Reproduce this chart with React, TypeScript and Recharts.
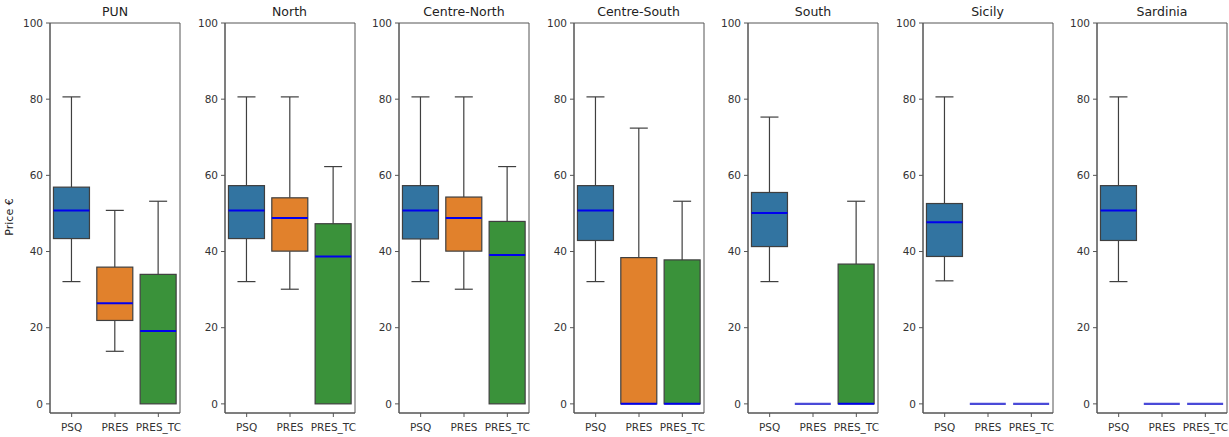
import React from 'react';
import { ComposedChart, Bar, XAxis, YAxis, ReferenceArea } from 'recharts';

const categories = ['PSQ', 'PRES', 'PRES_TC'];
const regions = ['PUN', 'North', 'Centre-North', 'Centre-South', 'South', 'Sicily', 'Sardinia'];
const yTicks = [0, 20, 40, 60, 80, 100];
const boxColors = ['#3274a1', '#e1812c', '#3a923a'];

// per region, per category (PSQ, PRES, PRES_TC)
const whiskerLow = [
  [32.1, 13.8, 0], [32.1, 30.1, 0], [32.1, 30.1, 0], [32.1, 0, 0], [32.1, 0, 0], [32.3, 0, 0], [32.1, 0, 0],
];
const quartile1 = [
  [43.4, 21.9, 0], [43.4, 40.1, 0], [43.3, 40.1, 0], [42.9, 0, 0], [41.3, 0, 0], [38.7, 0, 0], [42.9, 0, 0],
];
const medians = [
  [50.8, 26.4, 19.1], [50.8, 48.8, 38.7], [50.8, 48.8, 39.1], [50.8, 0, 0], [50.1, 0, 0], [47.7, 0, 0], [50.8, 0, 0],
];
const quartile3 = [
  [56.9, 35.9, 34.0], [57.3, 54.1, 47.3], [57.3, 54.3, 47.9], [57.3, 38.4, 37.8], [55.5, 0, 36.7], [52.6, 0, 0], [57.3, 0, 0],
];
const whiskerHigh = [
  [80.6, 50.8, 53.2], [80.6, 80.6, 62.3], [80.6, 80.6, 62.3], [80.6, 72.4, 53.2], [75.3, 0, 53.2], [80.6, 0, 0], [80.6, 0, 0],
];

const FONT = '"DejaVu Sans", sans-serif';
const EDGE = '#3f3f3f';
const AXIS = '#555555';

const BoxShape = (props: any) => {
  const { x, y, width, height, payload } = props;
  const { min, q1, med, q3, max, color } = payload;
  const top = Math.min(y, y + height);
  const bottom = Math.max(y, y + height);
  const span = max - min;
  const toY = (v: number) => (span === 0 ? bottom : top + ((max - v) / span) * (bottom - top));
  const cx = x + width / 2;
  const capHalf = width / 4;
  const yMax = toY(max), yQ3 = toY(q3), yMed = toY(med), yQ1 = toY(q1), yMin = toY(min);
  const hasBox = q3 - q1 > 0;
  return (
    <g>
      {max > q3 && (
        <g>
          <line x1={cx} x2={cx} y1={yQ3} y2={yMax} stroke={EDGE} strokeWidth={1.2} />
          <line x1={cx - capHalf} x2={cx + capHalf} y1={yMax} y2={yMax} stroke={EDGE} strokeWidth={1.2} />
        </g>
      )}
      {min < q1 && (
        <g>
          <line x1={cx} x2={cx} y1={yQ1} y2={yMin} stroke={EDGE} strokeWidth={1.2} />
          <line x1={cx - capHalf} x2={cx + capHalf} y1={yMin} y2={yMin} stroke={EDGE} strokeWidth={1.2} />
        </g>
      )}
      {hasBox && (
        <rect x={x} y={yQ3} width={width} height={yQ1 - yQ3} fill={color} stroke={EDGE} strokeWidth={1.2} />
      )}
      <line
        x1={x}
        x2={x + width}
        y1={yMed}
        y2={yMed}
        stroke={hasBox ? '#0000ee' : '#4a4ad8'}
        strokeWidth={hasBox ? 2 : 2.2}
      />
    </g>
  );
};

const PLOT_TOP = 23;
const PLOT_BOTTOM = 413;
const PLOT_W = 130;
const AXIS_W = 45;
const FIRST_LEFT = 50;
const STEP = 174.5;

function Panel({ r }: { r: number }) {
  const data = categories.map((name, i) => ({
    name,
    min: whiskerLow[r][i],
    q1: quartile1[r][i],
    med: medians[r][i],
    q3: quartile3[r][i],
    max: whiskerHigh[r][i],
    color: boxColors[i],
  }));
  const plotLeft = FIRST_LEFT + r * STEP;
  return (
    <div style={{ position: 'absolute', left: plotLeft - AXIS_W, top: 0 }}>
      <div
        style={{
          position: 'absolute',
          left: AXIS_W,
          width: PLOT_W,
          top: 4,
          textAlign: 'center',
          fontFamily: FONT,
          fontSize: 12.5,
          lineHeight: '16px',
          color: '#222',
        }}
      >
        {regions[r]}
      </div>
      <ComposedChart
        width={AXIS_W + PLOT_W + 2}
        height={437}
        data={data}
        margin={{ top: PLOT_TOP, right: 2, bottom: 0, left: 0 }}
        barCategoryGap="8%"
      >
        <XAxis
          dataKey="name"
          height={437 - PLOT_BOTTOM}
          tick={{ fontSize: 10.5, fill: '#333', fontFamily: FONT }}
          tickSize={4}
          tickMargin={7}
          tickLine={{ stroke: AXIS }}
          axisLine={{ stroke: AXIS }}
          interval={0}
        />
        <YAxis
          type="number"
          width={AXIS_W}
          domain={[-2.4, 100]}
          allowDataOverflow
          ticks={yTicks}
          interval={0}
          tick={{ fontSize: 10.5, fill: '#333', fontFamily: FONT }}
          tickSize={4}
          tickMargin={3}
          tickLine={{ stroke: AXIS }}
          axisLine={{ stroke: AXIS }}
        />
        <ReferenceArea y1={-2.4} y2={100} fill="none" stroke={AXIS} strokeWidth={1} ifOverflow="visible" />
        <Bar
          dataKey={(d: any) => [d.min, d.max]}
          shape={BoxShape}
          isAnimationActive={false}
        />
      </ComposedChart>
    </div>
  );
}

export default function App() {
  return (
    <div style={{ position: 'absolute', left: 0, top: 0, width: 1229, height: 437, background: '#fff' }}>
      <div
        style={{
          position: 'absolute',
          left: 9,
          top: 217,
          transform: 'translate(-50%, -50%) rotate(-90deg)',
          fontFamily: FONT,
          fontSize: 11,
          color: '#222',
          whiteSpace: 'nowrap',
        }}
      >
        Price €
      </div>
      {regions.map((_, r) => (
        <Panel key={r} r={r} />
      ))}
    </div>
  );
}
